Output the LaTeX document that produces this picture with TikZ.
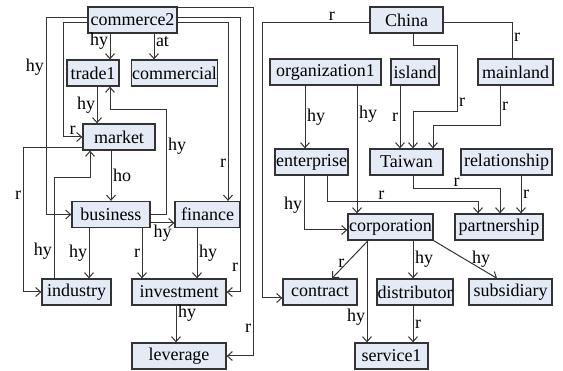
\documentclass[tikz,border=0pt]{standalone}
\usepackage{fontspec}
\setmainfont{Liberation Serif}
\newfontfamily\diagfont{Liberation Serif}
\usetikzlibrary{arrows.meta}
\definecolor{boxfill}{HTML}{E4EBF7}
\definecolor{edgegray}{HTML}{333333}

\begin{document}
\begin{tikzpicture}[x=1pt, y=-1pt,
    box/.style={draw=edgegray, fill=boxfill, line width=1.3pt, minimum height=26pt,
      inner sep=0.5pt, font=\diagfont\fontsize{18}{20}\selectfont},
    arr/.style={draw=edgegray, line width=1pt, -{Straight Barb[length=5pt,width=9pt]}},
    lin/.style={draw=edgegray, line width=1pt},
    lbl/.style={inner sep=1.5pt, font=\diagfont\fontsize{18}{20}\selectfont}]
  \useasboundingbox (0,0) rectangle (563,371);

  % all boxes: name / x / y / width
  \foreach \name/\x/\y/\w in {
      commerce2/132.5/20/89, trade1/93/73/52, commercial/174.5/73/85,
      market/119/137/72, business/111/214.5/78, finance/207.5/214.5/65,
      industry/76.5/292/69, investment/179/292/94, leverage/179/356/94,
      China/406.5/20/73, organization1/325.5/72/111, island/415/72/48,
      mainland/515.5/72/75, enterprise/311.5/162/73, Taiwan/406.5/162/73,
      relationship/506.5/162/91, corporation/390.5/227/85, partnership/499/227/88,
      contract/320/292/74, distributor/415/292/76, subsidiary/510.5/292/83,
      service1/391.5/356/73} {
    \node[box, minimum width=\w pt] (\name) at (\x,\y) {\name};
  }

  % left cluster
  \draw[arr] (commerce2.south -| 110,0) -- node[lbl,left,pos=0.3]{hy} (trade1.north -| 110,0);
  \draw[arr] (commerce2.south -| 154,0) -- node[lbl,right,pos=0.3]{at} (commercial.north -| 154,0);
  \draw[arr] (trade1.south -| 97,0) -- node[lbl,left]{hy} (market.north -| 97,0);
  \draw[arr] (commerce2.west |- 0,23) -- (63,23) -- (63,137) -- node[lbl,above]{r} (market.west);
  \draw[arr] (commerce2.west |- 0,18) -- (46,18) -- node[lbl,left,pos=0.25]{hy} (46,214.5) -- (business.west);
  \draw[arr] (market.south -| 111,0) -- node[lbl,right]{ho} (business.north -| 111,0);
  \draw[arr] (business.east) -- (166,214.5) -- node[lbl,right,pos=0.65]{hy} (166,110) -- (110,110) -- (trade1.south -| 110,0);
  \draw[arr] (industry.north -| 54,0) -- node[lbl,left,pos=0.27]{hy} (54,178) -- (90,178) -- (market.south -| 90,0);
  \draw[arr] (market.west |- 0,148) -- (23,148) -- node[lbl,left,pos=0.33]{r} (23,292) -- (industry.west);
  \draw[arr] (business.south -| 89,0) -- node[lbl,left]{hy} (industry.north -| 89,0);
  \draw[arr] (business.south -| 142,0) -- node[lbl,left]{r} (investment.north -| 142,0);
  \draw[arr] (business.east |- 0,223) -- node[lbl,below]{hy} (finance.west |- 0,223);
  \draw[arr] (finance.south -| 197,0) -- node[lbl,right]{hy} (investment.north -| 197,0);
  \draw[arr] (commerce2.east |- 0,23) -- (228,23) -- node[lbl,left,pos=0.79]{r} (finance.north -| 228,0);
  \draw[arr] (commerce2.east |- 0,18) -- (240,18) -- node[lbl,left,pos=0.91]{r} (240,292) -- (investment.east);
  \draw[arr] (commerce2.east |- 0,8) -- (253,8) -- node[lbl,left,pos=0.92]{r} (253,356) -- (leverage.east);
  \draw[arr] (investment.south -| 176,0) -- node[lbl,right,pos=0.2]{hy} (leverage.north -| 176,0);

  % right cluster
  \draw[arr] (China.west |- 0,23) -- node[lbl,above,pos=0.35]{r} (262,23) -- (262,298) -- (contract.west |- 0,298);
  \draw[arr] (China.south -| 413,0) -- (413,46) -- (457,46) -- node[lbl,right,pos=0.85]{r} (457,112) -- (413,112) -- (Taiwan.north -| 413,0);
  \draw[lin] (China.east |- 0,23) -- (512,23) -- node[lbl,right,pos=0.4]{r} (mainland.north -| 512,0);
  \draw[arr] (island.south -| 400,0) -- node[lbl,left]{r} (Taiwan.north -| 400,0);
  \draw[arr] (mainland.south -| 500,0) -- node[lbl,right]{r} (500,126) -- (433,126) -- (Taiwan.north -| 433,0);
  \draw[arr] (organization1.south -| 305,0) -- node[lbl,right]{hy} (enterprise.north -| 305,0);
  \draw[arr] (organization1.south -| 357,0) -- node[lbl,right,pos=0.22]{hy} (corporation.north -| 357,0);
  \draw[arr] (enterprise.south -| 304,0) -- node[lbl,left,pos=0.55]{hy} (304,230) -- (corporation.west |- 0,230);
  \draw[arr] (enterprise.south -| 327,0) -- (327,202) -- node[lbl,above,pos=0.36]{r} (478,202) -- (partnership.north -| 478,0);
  \draw[arr] (Taiwan.south -| 413,0) -- (413,189) -- node[lbl,above]{r} (500,189) -- (partnership.north -| 500,0);
  \draw[arr] (relationship.south -| 521,0) -- node[lbl,right]{r} (partnership.north -| 521,0);
  \draw[arr] (corporation.south -| 368,0) -- node[lbl,left,pos=0.6]{r} (contract.north -| 332,0);
  \draw[arr] (corporation.south -| 367,0) -- node[lbl,left,pos=0.75]{hy} (service1.north -| 367,0);
  \draw[arr] (corporation.south -| 413,0) -- node[lbl,right]{hy} (distributor.north -| 413,0);
  \draw[arr] (corporation.south east) -- node[lbl,above,pos=0.75]{hy} (subsidiary.north -| 497,0);
  \draw[arr] (distributor.south -| 413,0) -- node[lbl,right]{r} (service1.north -| 413,0);
\end{tikzpicture}
\end{document}
